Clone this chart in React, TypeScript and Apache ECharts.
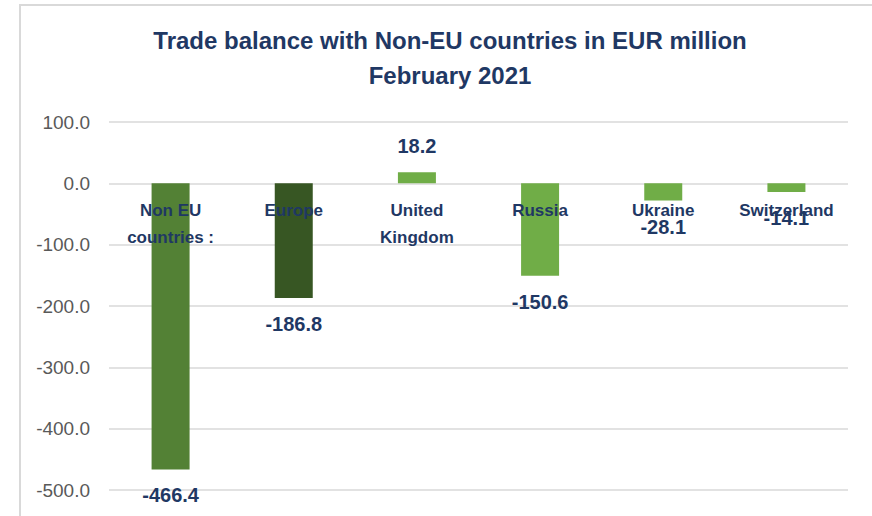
import React, { useEffect, useRef } from "react";
import * as echarts from "echarts";

const titleLines = ["Trade balance with Non-EU countries in EUR million", "February 2021"];
const categories = ["Non EU\ncountries :", "Europe", "United\nKingdom", "Russia", "Ukraine", "Switzerland"];
const values = [-466.4, -186.8, 18.2, -150.6, -28.1, -14.1];
const barColors = ["#538135", "#375623", "#70AD47", "#70AD47", "#70AD47", "#70AD47"];
const yMin = -500;
const yMax = 100;
const yStep = 100;

const NAVY = "#1F3864";
const FONT = "'Liberation Sans', Arial, sans-serif";

const GRID_TOP = 122;
const GRID_BOTTOM = 26;
const CHART_H = 516;

export default function App() {
  const ref = useRef<HTMLDivElement>(null);
  useEffect(() => {
    if (!ref.current) return;
    const chart = echarts.init(ref.current, null, { renderer: "svg" });
    const plotH = CHART_H - GRID_TOP - GRID_BOTTOM;
    // distance from the grid bottom up to the zero line, so category labels sit just below zero
    const zeroFromBottom = (plotH * (0 - yMin)) / (yMax - yMin);
    chart.setOption({
      animation: false,
      backgroundColor: "#FFFFFF",
      title: {
        text: titleLines.join("\n"),
        left: 445,
        textAlign: "center",
        top: 18,
        textStyle: {
          fontFamily: FONT,
          fontWeight: "bold",
          fontSize: 24,
          lineHeight: 35,
          color: NAVY,
        },
      },
      graphic: [
        {
          type: "rect",
          shape: { x: 20, y: 5, width: 900, height: 600 },
          style: { fill: "none", stroke: "#D9D9D9", lineWidth: 2 },
          silent: true,
          z: -1,
        },
      ],
      grid: {
        left: 109,
        right: 24,
        top: GRID_TOP,
        bottom: GRID_BOTTOM,
        containLabel: false,
        outerBoundsMode: "none",
      },
      xAxis: {
        type: "category",
        data: categories,
        axisLine: { show: false, onZero: true },
        axisTick: { show: false },
        splitLine: { show: false },
        axisLabel: {
          interval: 0,
          margin: 14 - zeroFromBottom,
          fontFamily: FONT,
          fontWeight: "bold",
          fontSize: 17,
          lineHeight: 27,
          color: NAVY,
          verticalAlign: "top",
        },
        z: 10,
      },
      yAxis: {
        type: "value",
        min: yMin,
        max: yMax,
        interval: yStep,
        axisLine: { show: false },
        axisTick: { show: false },
        splitLine: { lineStyle: { color: "#D9D9D9", width: 1.5 } },
        axisLabel: {
          margin: 19,
          fontFamily: FONT,
          fontSize: 19,
          color: "#595959",
          formatter: (v: number) => v.toFixed(1),
        },
      },
      series: [
        {
          type: "bar",
          barWidth: 38,
          z: 2,
          data: values.map((v, i) => ({
            value: v,
            itemStyle: { color: barColors[i] },
            label: {
              show: true,
              position: v >= 0 ? "top" : "bottom",
              distance: 16,
              formatter: () => v.toFixed(1),
              fontFamily: FONT,
              fontWeight: "bold",
              fontSize: 20,
              color: NAVY,
            },
          })),
        },
      ],
    });
    return () => chart.dispose();
  }, []);
  return (
    <div
      ref={ref}
      style={{ position: "fixed", left: 0, top: 0, width: 872, height: CHART_H, background: "#fff" }}
    />
  );
}
